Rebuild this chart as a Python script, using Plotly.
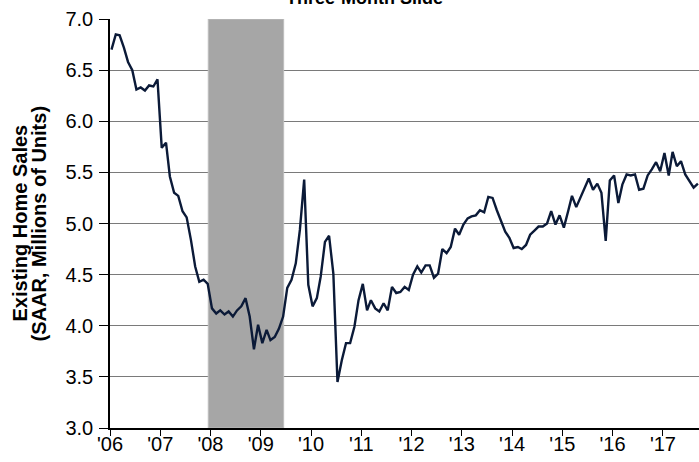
import pandas as pd
import plotly.graph_objects as go

# Monthly existing home sales, SAAR (millions), Jan 2006 - Sep 2017
start_month = "2006-01"
sales = [
    6.70, 6.85, 6.84, 6.72, 6.58, 6.50, 6.31, 6.33, 6.30, 6.35, 6.34, 6.41,   # 2006
    5.74, 5.79, 5.46, 5.30, 5.27, 5.12, 5.06, 4.84, 4.58, 4.43, 4.45, 4.41,   # 2007
    4.17, 4.12, 4.15, 4.11, 4.14, 4.09, 4.15, 4.19, 4.27, 4.09, 3.77, 4.01,   # 2008
    3.83, 3.96, 3.86, 3.89, 3.97, 4.09, 4.37, 4.45, 4.61, 4.94, 5.43, 4.40,   # 2009
    4.19, 4.27, 4.48, 4.82, 4.88, 4.51, 3.45, 3.66, 3.83, 3.83, 3.99, 4.25,   # 2010
    4.41, 4.15, 4.25, 4.17, 4.14, 4.22, 4.15, 4.38, 4.32, 4.33, 4.38, 4.35,   # 2011
    4.50, 4.58, 4.52, 4.59, 4.59, 4.47, 4.51, 4.75, 4.71, 4.77, 4.95, 4.89,   # 2012
    4.99, 5.05, 5.07, 5.08, 5.13, 5.11, 5.26, 5.25, 5.13, 5.02, 4.92, 4.86,   # 2013
    4.76, 4.77, 4.75, 4.79, 4.89, 4.93, 4.97, 4.97, 5.00, 5.12, 4.99, 5.08,   # 2014
    4.96, 5.12, 5.27, 5.16, 5.25, 5.34, 5.44, 5.33, 5.39, 5.30, 4.83, 5.42,   # 2015
    5.47, 5.20, 5.38, 5.48, 5.47, 5.48, 5.33, 5.34, 5.47, 5.53, 5.60, 5.51,   # 2016
    5.69, 5.47, 5.70, 5.56, 5.61, 5.48, 5.41, 5.35, 5.39,                     # 2017
]
years = list(range(2006, 2018))
year_labels = ["'%02d" % (y % 100) for y in years]
recession = ("2007-12-16", "2009-06-16")
y_ticks = [3.0, 3.5, 4.0, 4.5, 5.0, 5.5, 6.0, 6.5, 7.0]
title_text = "Three-Month Slide"
y_title_lines = ["Existing Home Sales", "(SAAR, Millions of Units)"]

dates = pd.date_range(start_month, periods=len(sales), freq="MS") + pd.Timedelta(days=11)

FONT = "Arial, Liberation Sans, sans-serif"
LINE = "#0b1a38"
L, R, T, B = 110, 0, 19, 34
W, H = 699, 462
PW = W - L - R

fig = go.Figure()
fig.add_trace(go.Scatter(
    x=dates, y=sales, mode="lines",
    line=dict(color=LINE, width=2.4),
    hoverinfo="x+y", showlegend=False,
))

fig.add_shape(
    type="rect", xref="x", yref="y",
    x0=recession[0], x1=recession[1], y0=3.0, y1=7.0,
    fillcolor="#a6a6a6", line=dict(color="#bdbdbd", width=1),
    layer="between",
)

fig.add_annotation(
    text="<b>%s</b>" % title_text, xref="paper", yref="paper",
    x=(364 - L) / PW, y=1, xanchor="center", yanchor="bottom", yshift=9,
    showarrow=False, font=dict(family=FONT, size=18, color="black"),
)

# two-line rotated y-axis title
for px, line in zip([19, 38], y_title_lines):
    fig.add_annotation(
        text="<b>%s</b>" % line, xref="paper", yref="paper",
        x=(px - L) / PW, y=0.5, xanchor="center", yanchor="middle",
        textangle=-90, showarrow=False,
        font=dict(family=FONT, size=20, color="black"),
    )

fig.update_layout(
    width=W, height=H,
    margin=dict(l=L, r=R, t=T, b=B),
    paper_bgcolor="white", plot_bgcolor="white",
    font=dict(family=FONT, color="black", size=20),
    xaxis=dict(
        type="date", range=["2006-01-01", "2017-09-20"],
        tickvals=[pd.Timestamp(f"{y}-01-01") for y in years],
        ticktext=year_labels,
        ticks="outside", ticklen=6, tickwidth=1.3, tickcolor="black",
        ticklabelstandoff=-9,
        showline=True, linecolor="black", linewidth=1.5,
        showgrid=False, zeroline=False, automargin=False,
        tickfont=dict(family=FONT, size=20, color="black"),
    ),
    yaxis=dict(
        range=[3.0, 7.0], tickvals=y_ticks, tickformat=".1f",
        ticks="outside", ticklen=9, tickwidth=1.3, tickcolor="black",
        ticklabelstandoff=2,
        showline=True, linecolor="black", linewidth=1.5,
        showgrid=True, gridcolor="#7a7a7a", gridwidth=1.4,
        zeroline=False, automargin=False,
        tickfont=dict(family=FONT, size=20, color="black"),
    ),
)

fig.write_html(
    "out.html",
    config={"displayModeBar": False},
    post_script="document.body.style.margin='0';",
)
